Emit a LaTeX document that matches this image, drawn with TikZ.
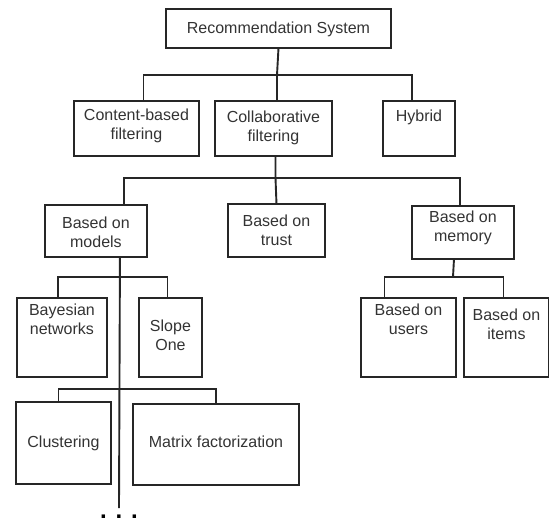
\documentclass[tikz,border=0pt]{standalone}
\usepackage{fontspec}
\setmainfont{Liberation Sans}
\usetikzlibrary{positioning}

\begin{document}
\begin{tikzpicture}[x=1pt,y=-1pt,
	font=\fontsize{16}{19}\selectfont,
	conn/.style={line width=1.9pt,draw=black!85},
	box/.style={rectangle,draw=black!85,line width=1.9pt,inner sep=0pt,
		align=center,anchor=north west,text=black!80}]
\useasboundingbox (0,0) rectangle (549,522);
\node[box,minimum width=225pt,text height=25pt,text depth=14pt](rec) at (165,8){Recommendation System};
\node[box,minimum width=125pt,text height=39pt,text depth=16pt](content) at (73,100){Content-based\\filtering};
\node[box,minimum width=117pt,text height=41pt,text depth=14pt](collab) at (214,100){Collaborative\\filtering};
\node[box,minimum width=72pt,text height=21pt,text depth=34pt](hybrid) at (382,100){Hybrid};
\node[box,minimum width=102pt,text height=43pt,text depth=9pt](models) at (44,204){Based on\\models};
\node[box,minimum width=97pt,text height=42pt,text depth=11pt](trust) at (227,203){Based on\\trust};
\node[box,minimum width=102pt,text height=36pt,text depth=17pt](memory) at (411,205){Based on\\memory};
\node[box,minimum width=90pt,text height=37pt,text depth=42pt](bayes) at (16,297){Bayesian\\networks};
\node[box,minimum width=63pt,text height=53pt,text depth=26pt](slope) at (138,297){Slope\\One};
\node[box,minimum width=95pt,text height=37pt,text depth=42pt](users) at (360,297){Based on\\users};
\node[box,minimum width=85pt,text height=42pt,text depth=37pt](items) at (463,297){Based on\\items};
\node[box,minimum width=95pt,text height=46pt,text depth=36pt](clust) at (15,401){Clustering};
\node[box,minimum width=166pt,text height=44pt,text depth=37pt](matrix) at (132,403){Matrix factorization};
% junctions
\coordinate (j1) at (277,75);
\coordinate (j2) at (275.5,178);
\coordinate (j3) at (119,277);
\coordinate (j4) at (119,389);
\coordinate (j5) at (453,277);
\coordinate (more) at (119,508);
\draw[conn](rec.south) -- (j1);
\draw[conn]([xshift=7pt]content.north) |- (j1) -| ([xshift=-7pt]hybrid.north);
\draw[conn](j1) -- (j1 |- collab.north);
\draw[conn](collab.south -| j2) -- (j2) -- (trust.north);
\draw[conn]([xshift=28pt]models.north) |- (j2) -| ([xshift=-3pt]memory.north);
\draw[conn]([xshift=24pt]models.south) -- (more);
\draw[conn]([xshift=-4pt]bayes.north) |- (j3) -| ([xshift=-3pt]slope.north);
\draw[conn]([xshift=-5pt]clust.north) |- (j4) -| (matrix.north);
\draw[conn]([xshift=-9pt]memory.south) -- (j5);
\draw[conn]([xshift=-24pt]users.north) |- (j5) -| ([xshift=-3pt]items.north);
\node[below=3pt of more,font=\fontsize{24}{24}\selectfont\bfseries](dots){. . .};
\end{tikzpicture}
\end{document}
